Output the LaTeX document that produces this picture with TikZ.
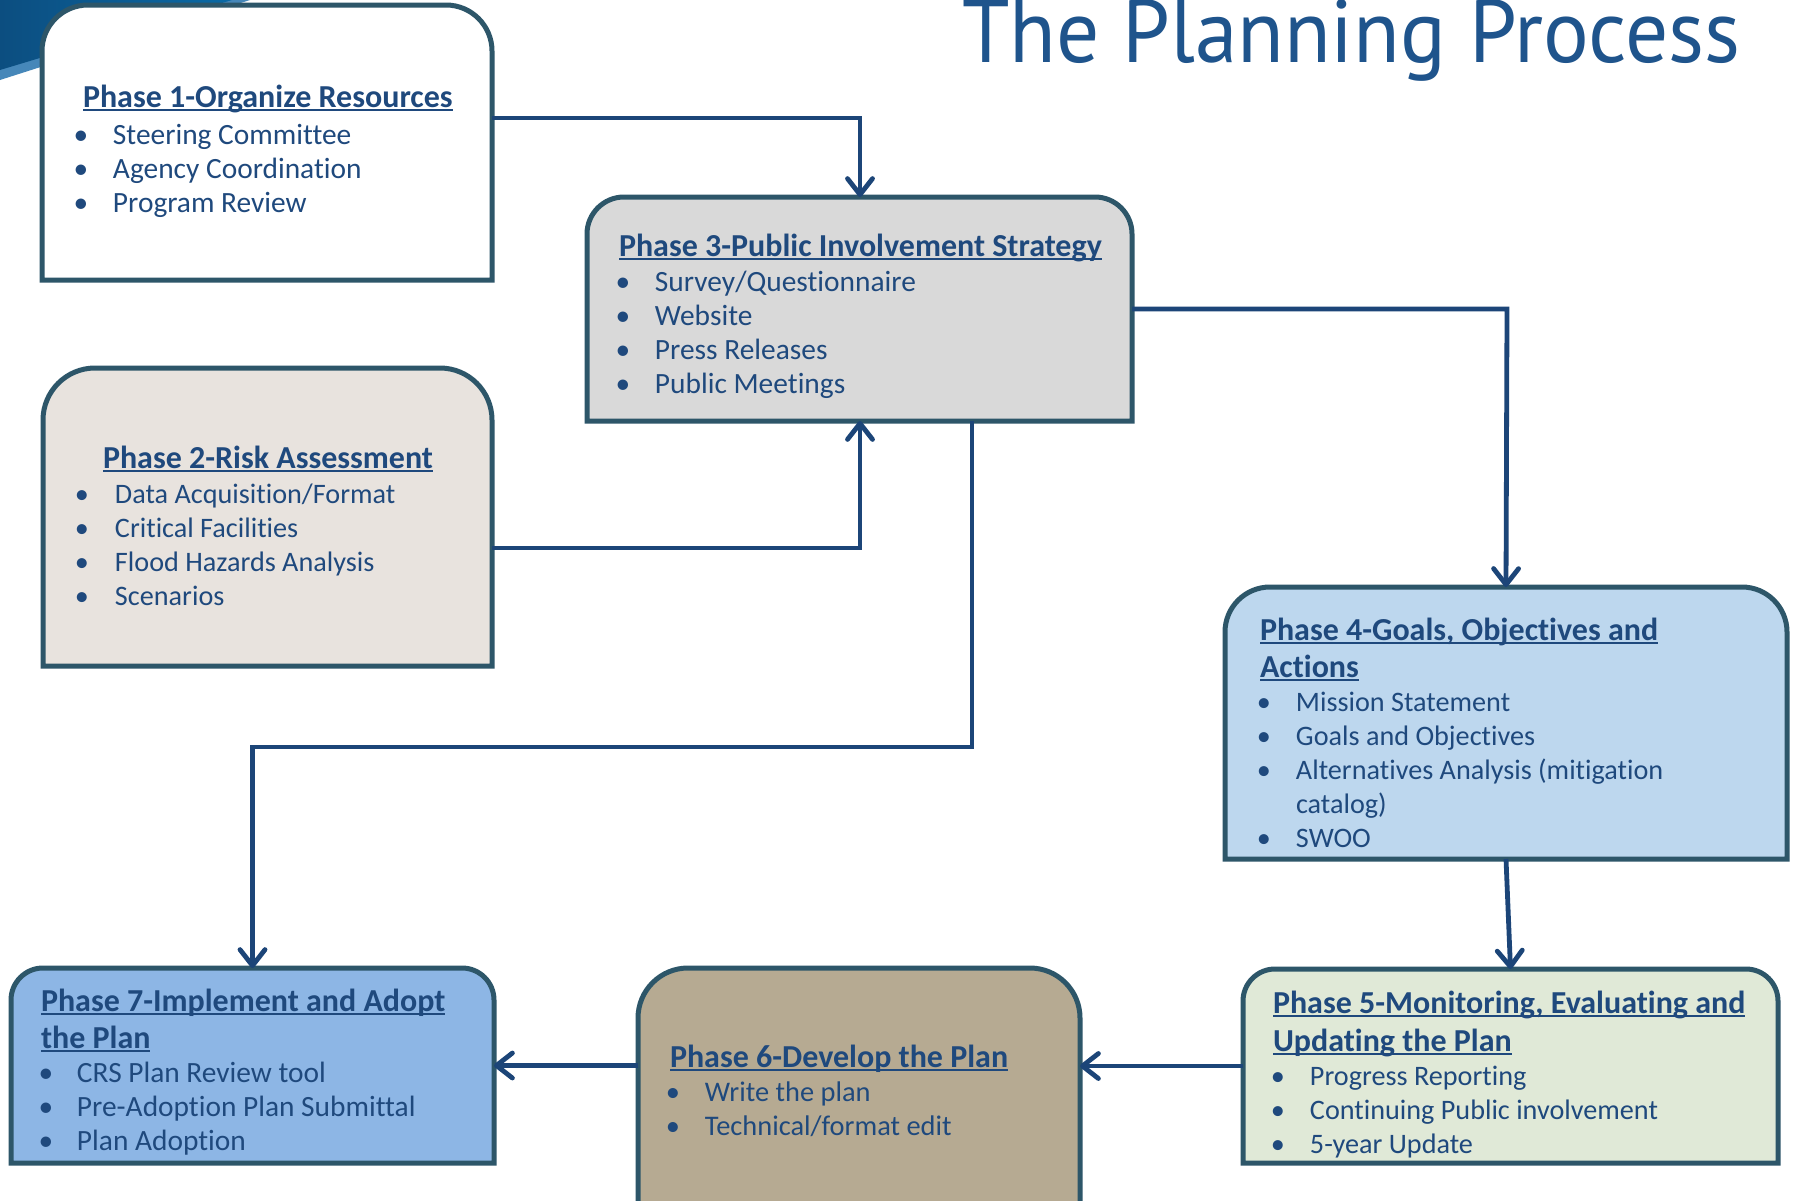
\documentclass[tikz,border=0pt]{standalone}
\usepackage{fontspec}
\setmainfont{Carlito}[Ligatures=NoCommon]
\newfontfamily\titlefont{PT Sans}
\usetikzlibrary{arrows.meta}
\definecolor{txt}{RGB}{31,73,125}
\definecolor{bord}{RGB}{45,86,105}
\definecolor{conn}{RGB}{28,69,120}
\definecolor{ttl}{RGB}{31,84,140}
\definecolor{f2}{RGB}{232,227,222}
\definecolor{f3}{RGB}{217,217,217}
\definecolor{f4}{RGB}{189,215,238}
\definecolor{f5}{RGB}{224,233,215}
\definecolor{f6}{RGB}{182,170,146}
\definecolor{f7}{RGB}{141,182,229}
\definecolor{sw1}{RGB}{12,78,128}
\definecolor{sw2}{RGB}{10,105,165}
\definecolor{sw3}{RGB}{70,135,185}

\newlength\ulw
\newcommand\ulin[1]{\leavevmode\settowidth\ulw{#1}\rlap{\rule[-4pt]{\ulw}{2pt}}#1}
\newcommand\ttlline[1]{\par\leavevmode{\fontsize{32pt}{34pt}\selectfont\bfseries\ulin{#1}}}
\newcommand\itm[1]{\par\leavevmode\hspace*{\bxo pt}\makebox[0pt]{\textbullet}\hspace*{\dimexpr\txo pt-\bxo pt\relax}#1}
\newcommand\cnt[1]{\par\leavevmode\hspace*{\txo pt}#1}
\newcommand\setupbox[1]{\fontsize{#1pt}{34pt}\selectfont\parindent0pt\parskip0pt}

\newcommand\phbox[7]{%
 \draw[boxline, fill=#7] (#2,#5) -- (#2,#3+#6) .. controls (#2,#3+0.448*#6) and (#2+0.448*#6,#3) .. (#2+#6,#3) -- (#4-#6,#3) .. controls (#4-0.448*#6,#3) and (#4,#3+0.448*#6) .. (#4,#3+#6) -- (#4,#5) -- cycle;
 \node[inner sep=0pt,outer sep=0pt,minimum width={(#4-#2)*1pt},minimum height={(#5-#3)*1pt}] (#1) at ({(#2+#4)/2},{(#3+#5)/2}) {};
}

\tikzset{
 boxline/.style={draw=bord, line width=5pt, line join=miter},
 txtnode/.style={anchor=base west, inner sep=0pt, outer sep=0pt, text=txt},
 arr/.style={draw=conn, line width=4.8pt, line join=miter, -{Straight Barb[length=16pt,width=25pt,line cap=round,line join=round]}},
}

\begin{document}
\begin{tikzpicture}[x=1pt,y=-1pt]
\useasboundingbox (0,0) rectangle (1795,1200);
\clip (0,0) rectangle (1795,1200);
\fill[white] (0,0) rectangle (1795,1200);

% swoosh
\fill[sw3] (0,0) -- (250,0) -- (0,80) -- cycle;
\shade[left color=sw1, right color=sw2] (0,0) -- (232,0) -- (0,70) -- cycle;

% title
\node[txtnode, font=\titlefont\fontsize{89}{100}\selectfont, text=ttl] (title) at (962,62.7) {\scalebox{0.96}[1]{The Planning Process}};

% boxes
\phbox{p1}{42}{5}{492}{280}{46}{white}
\phbox{p2}{43}{368}{492}{666}{52}{f2}
\phbox{p3}{587}{197}{1132}{421}{37}{f3}
\phbox{p4}{1225}{587}{1787}{859}{45}{f4}
\phbox{p5}{1243}{969}{1778}{1163}{32}{f5}
\phbox{p6}{638}{968}{1080}{1215}{50}{f6}
\phbox{p7}{11}{968}{494}{1163}{32}{f7}

% texts
\node[txtnode] (t1) at (83,107) {\def\bxo{-2}\def\txo{30}\parbox[t]{420pt}{\setupbox{29.4}
 \ttlline{Phase 1-Organize Resources}\vspace{3pt}
 \itm{Steering Committee}\itm{Agency Coordination}\itm{Program Review}}};

\node[txtnode] (t2) at (103,468) {\def\bxo{-21}\def\txo{12}\parbox[t]{400pt}{\setupbox{28.2}
 \ttlline{Phase 2-Risk Assessment}\vspace{1pt}
 \itm{Data Acquisition/Format}\itm{Critical Facilities}\itm{Flood Hazards Analysis}\itm{Scenarios}}};

\node[txtnode] (t3) at (619,256) {\def\bxo{4}\def\txo{36}\parbox[t]{500pt}{\setupbox{29.4}
 \ttlline{Phase 3-Public Involvement Strategy}\vspace{1pt}
 \itm{Survey/Questionnaire}\itm{Website}\itm{Press Releases}\itm{Public Meetings}}};

\node[txtnode] (t4) at (1260,640) {\def\bxo{4}\def\txo{36}\parbox[t]{500pt}{\setupbox{28.2}
 \ttlline{Phase 4-Goals, Objectives and}\vspace{3pt}
 \ttlline{Actions}
 \itm{Mission Statement}\itm{Goals and Objectives}\itm{Alternatives Analysis (mitigation}\cnt{catalog)}\itm{SWOO}}};

\node[txtnode] (t5) at (1273,1013) {\def\bxo{5}\def\txo{37}\parbox[t]{500pt}{\setupbox{28.2}
 \ttlline{Phase 5-Monitoring, Evaluating and}\vspace{4pt}
 \ttlline{Updating the Plan}
 \itm{Progress Reporting}\itm{Continuing Public involvement}\itm{5-year Update}}};

\node[txtnode] (t6) at (670,1067) {\def\bxo{3}\def\txo{35}\parbox[t]{400pt}{\setupbox{28.4}
 \ttlline{Phase 6-Develop the Plan}
 \itm{Write the plan}\itm{Technical/format edit}}};

\node[txtnode] (t7) at (41,1011) {\def\bxo{5}\def\txo{36}\parbox[t]{440pt}{\setupbox{29.4}
 \ttlline{Phase 7-Implement and Adopt}\vspace{3pt}
 \ttlline{the Plan}
 \itm{CRS Plan Review tool}\itm{Pre-Adoption Plan Submittal}\itm{Plan Adoption}}};

% connectors
\coordinate (b1) at (860,118);
\coordinate (b2) at (860,548);
\coordinate (b3) at (1507,309);
\coordinate (b4) at (972,747);
\draw[arr] (p1.east |- b1) -- (b1) -- (b1 |- p3.north);
\draw[arr] (p2.east |- b2) -- (b2) -- (b2 |- p3.south);
\draw[arr] (p3.east |- b3) -- (b3) -- (p4.north);
\draw[arr] (b4 |- p3.south) -- (b4) -- (b4 -| p7.north) -- (p7.north);
\draw[arr] (p4.south) -- (p5.north);
\draw[arr] (p5.west) -- (p5.west -| p6.east);
\draw[arr] (p7.east -| p6.west) -- (p7.east);
\end{tikzpicture}
\end{document}
